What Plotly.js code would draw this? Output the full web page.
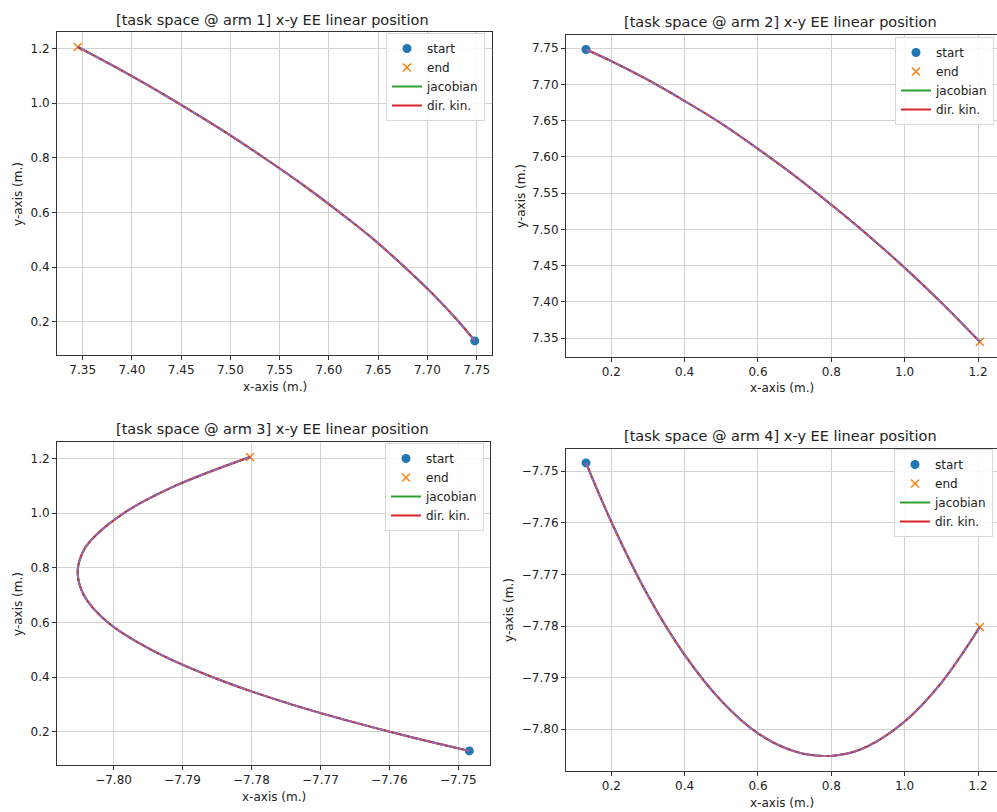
<!DOCTYPE html>
<html>
<head>
<meta charset="utf-8">
<script src="https://cdn.plot.ly/plotly-3.0.1.min.js"></script>
<style>html,body{margin:0;padding:0;background:#fff;}#chart{width:997px;height:812px;}</style>
</head>
<body>
<div id="chart"></div>
<script>
// ---- data ----
const arm1X = [7.748, 7.732, 7.706, 7.677, 7.646, 7.611, 7.574, 7.534, 7.492, 7.447, 7.399, 7.345];
const arm1Y = [0.131, 0.2, 0.3, 0.4, 0.5, 0.6, 0.7, 0.8, 0.9, 1.0, 1.1, 1.205];

const arm2X = [0.131, 0.2, 0.3, 0.4, 0.5, 0.6, 0.7, 0.8, 0.9, 1.0, 1.1, 1.205];
const arm2Y = [7.748, 7.732, 7.706, 7.677, 7.646, 7.611, 7.574, 7.534, 7.492, 7.447, 7.399, 7.345];

const arm3X = [-7.7484, -7.7598, -7.7741, -7.7856, -7.7945, -7.8008, -7.8043, -7.8052, -7.8046, -7.8033, -7.7985, -7.7910, -7.7802];
const arm3Y = [0.131, 0.2, 0.3, 0.4, 0.5, 0.6, 0.7, 0.782, 0.85, 0.9, 1.0, 1.1, 1.205];

const arm4X = [0.131, 0.2, 0.3, 0.4, 0.5, 0.6, 0.7, 0.782, 0.85, 0.9, 1.0, 1.1, 1.205];
const arm4Y = [-7.7484, -7.7598, -7.7741, -7.7856, -7.7945, -7.8008, -7.8043, -7.8052, -7.8046, -7.8033, -7.7985, -7.7910, -7.7802];

const titles = [
  "[task space @ arm 1] x-y EE linear position",
  "[task space @ arm 2] x-y EE linear position",
  "[task space @ arm 3] x-y EE linear position",
  "[task space @ arm 4] x-y EE linear position"
];
const xLabel = "x-axis (m.)";
const yLabel = "y-axis (m.)";
const seriesNames = ["start", "end", "jacobian", "dir. kin."];

// ---- build ----
const arms = [[arm1X, arm1Y], [arm2X, arm2Y], [arm3X, arm3Y], [arm4X, arm4Y]];
const FONT = "DejaVu Sans, Liberation Sans, sans-serif";
const W = 997, H = 812;
const px = v => v / W, py = v => 1 - v / H;

const data = [];
arms.forEach((a, i) => {
  const n = i + 1;
  const xa = n === 1 ? 'x' : 'x' + n, ya = n === 1 ? 'y' : 'y' + n;
  const lg = n === 1 ? 'legend' : 'legend' + n;
  const xs = a[0], ys = a[1];
  data.push({type: 'scatter', mode: 'markers', x: [xs[0]], y: [ys[0]], name: seriesNames[0],
    xaxis: xa, yaxis: ya, legend: lg, marker: {color: '#1f77b4', size: 9, symbol: 'circle'}});
  data.push({type: 'scatter', mode: 'markers', x: [xs[xs.length - 1]], y: [ys[ys.length - 1]], name: seriesNames[1],
    xaxis: xa, yaxis: ya, legend: lg, marker: {color: '#ff7f0e', size: 8, symbol: 'x-thin', line: {color: '#ff7f0e', width: 1.5}}});
  data.push({type: 'scatter', mode: 'lines', x: xs, y: ys, name: seriesNames[2],
    xaxis: xa, yaxis: ya, legend: lg, line: {color: '#2ca02c', width: 2, shape: 'spline', smoothing: 1}});
  data.push({type: 'scatter', mode: 'lines', x: xs, y: ys, name: seriesNames[3],
    xaxis: xa, yaxis: ya, legend: lg, line: {color: '#d62728', width: 2, shape: 'spline', smoothing: 1}});
  data.push({type: 'scatter', mode: 'lines', x: xs, y: ys, name: 'ref', showlegend: false,
    xaxis: xa, yaxis: ya, line: {color: '#9467bd', width: 2, shape: 'spline', smoothing: 1, dash: '6px,2px'}});
});

const axBase = {
  showline: true, mirror: true, linecolor: '#333', linewidth: 1,
  ticks: 'outside', ticklen: 4, tickcolor: '#333', tickwidth: 1,
  showgrid: true, gridcolor: '#d3d3d3', gridwidth: 1, zeroline: false,
  tickfont: {family: FONT, size: 12, color: '#222'}, automargin: false, fixedrange: true
};
const ax = o => Object.assign({}, axBase, o);

const legBase = {
  xanchor: 'right', yanchor: 'top', bgcolor: 'rgba(255,255,255,0.85)',
  bordercolor: '#d8d8d8', borderwidth: 1, font: {family: FONT, size: 12, color: '#222'},
  itemwidth: 30, tracegroupgap: 0
};
const leg = o => Object.assign({}, legBase, o);

const annotations = [];
const addText = (text, x, y, size, angle) => annotations.push({
  text, xref: 'paper', yref: 'paper', x: px(x), y: py(y), xanchor: 'center', yanchor: 'middle',
  showarrow: false, textangle: angle || 0, font: {family: FONT, size, color: '#222'}
});
addText(titles[0], 272, 20, 14.5);
addText(titles[1], 780, 22, 14.5);
addText(titles[2], 272, 429, 14.5);
addText(titles[3], 780, 436, 14.5);
addText(xLabel, 275, 387, 12);
addText(xLabel, 782, 388, 12);
addText(xLabel, 274, 797, 12);
addText(xLabel, 782, 803, 12);
addText(yLabel, 18, 194, 12, -90);
addText(yLabel, 521, 196, 12, -90);
addText(yLabel, 18, 604, 12, -90);
addText(yLabel, 509, 610, 12, -90);

const layout = {
  width: W, height: H, margin: {l: 0, r: 0, t: 0, b: 0},
  paper_bgcolor: '#fff', plot_bgcolor: '#fff', showlegend: true,
  font: {family: FONT},
  xaxis:  ax({domain: [px(57), px(492)], range: [7.3239, 7.7655], dtick: 0.05, tick0: 7.35, tickformat: '.2f', anchor: 'y'}),
  yaxis:  ax({domain: [py(355), py(32)], range: [0.0794, 1.2596], dtick: 0.2, tick0: 0, tickformat: '.1f', anchor: 'x'}),
  xaxis2: ax({domain: [px(566), 1], range: [0.0765, 1.2518], dtick: 0.2, tick0: 0, tickformat: '.1f', anchor: 'y2'}),
  yaxis2: ax({domain: [py(357), py(35)], range: [7.324, 7.768], dtick: 0.05, tick0: 7.35, tickformat: '.2f', anchor: 'x2'}),
  xaxis3: ax({domain: [px(57), px(490)], range: [-7.8082, -7.7454], dtick: 0.01, tick0: -7.80, tickformat: '.2f', anchor: 'y3'}),
  yaxis3: ax({domain: [py(765), py(442)], range: [0.0794, 1.2596], dtick: 0.2, tick0: 0, tickformat: '.1f', anchor: 'x3'}),
  xaxis4: ax({domain: [px(566), 1], range: [0.0765, 1.2518], dtick: 0.2, tick0: 0, tickformat: '.1f', anchor: 'y4'}),
  yaxis4: ax({domain: [py(771), py(449)], range: [-7.8081, -7.7457], dtick: 0.01, tick0: -7.80, tickformat: '.2f', anchor: 'x4'}),
  legend:  leg({x: px(485), y: py(33)}),
  legend2: leg({x: px(994), y: py(37)}),
  legend3: leg({x: px(484), y: py(443)}),
  legend4: leg({x: px(993), y: py(449)}),
  annotations
};

Plotly.newPlot('chart', data, layout, {staticPlot: true, displayModeBar: false});
</script>
</body>
</html>
